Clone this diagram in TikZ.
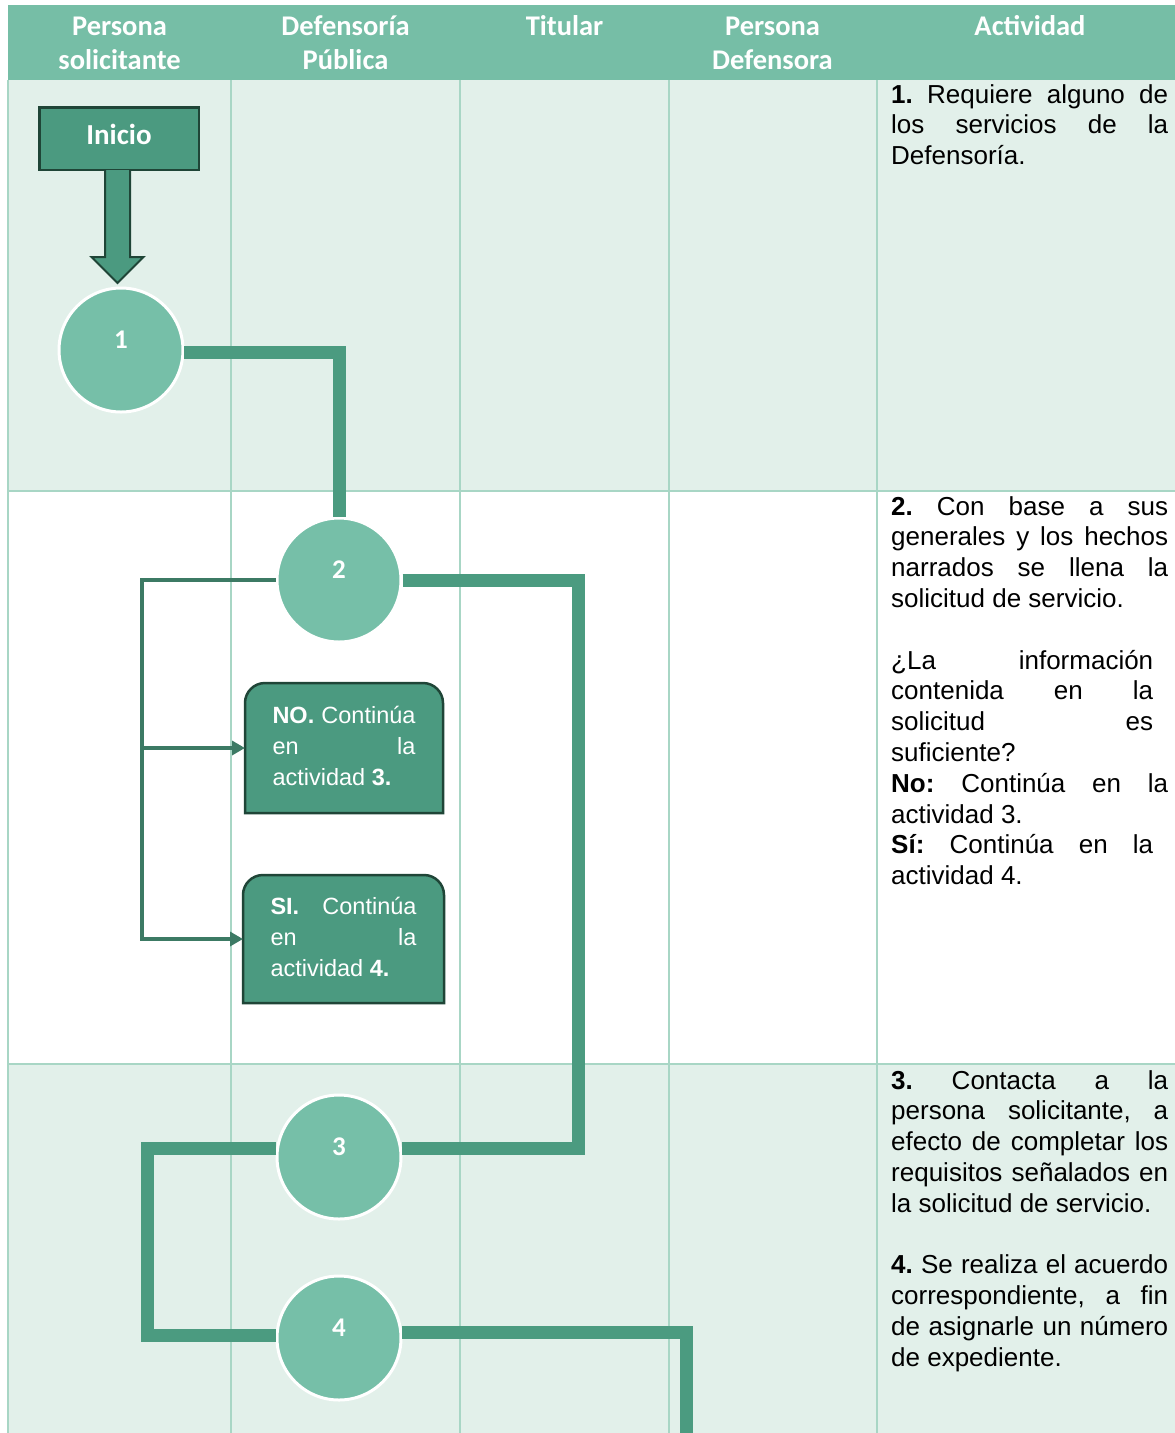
\documentclass[tikz,border=0pt]{standalone}
\usepackage{fontspec}
\setmainfont{Liberation Sans}
\newfontfamily\calfont{Carlito}
\usetikzlibrary{arrows.meta,calc}
\frenchspacing

\definecolor{hdrteal}{HTML}{76BEA6}
\definecolor{rowtint}{HTML}{E2F0EA}
\definecolor{gridline}{HTML}{A8D6C5}
\definecolor{deepteal}{HTML}{4B9A80}
\definecolor{softteal}{HTML}{76BFA8}
\definecolor{flowline}{HTML}{4B9B80}
\definecolor{branchline}{HTML}{3C7A64}
\definecolor{edgedark}{HTML}{1F4537}

% line-by-line text blocks: justified lines, flush-left lines, centred lines
\newdimen\lsk
\newcommand\lstrut{\rule[-0.28\lsk]{0pt}{\lsk}}
\newcommand\jline[2][277pt]{\hbox{\lstrut\makebox[#1][s]{#2}}}
\newcommand\fline[1]{\hbox{\lstrut #1}}
\newcommand\ctrline[1]{\hbox to 0pt{\hss #1\hss}}
\newcommand\textblock[2]{\vtop{\lsk=#1\relax\baselineskip=\lsk\lineskiplimit=-100pt\lineskip=0pt #2}}

\pgfdeclarelayer{bg}
\pgfdeclarelayer{boxes}
\pgfsetlayers{bg,boxes,main}

\tikzset{
  hdr/.style={inner sep=0pt, anchor=base, text=white,
    font=\calfont\bfseries\fontsize{28.5pt}{34pt}\selectfont},
  startbox/.style={rectangle, draw=edgedark, line width=2.5pt, fill=deepteal,
    text=white, font=\calfont\bfseries\fontsize{29pt}{34pt}\selectfont,
    minimum width=159.5pt, minimum height=62.5pt, inner sep=0pt,
    text height=19pt, text depth=7pt},
  stepcircle/.style={circle, fill=softteal, draw=white, line width=3pt,
    minimum size=124pt, inner sep=0pt, text=white,
    font=\calfont\bfseries\fontsize{27pt}{30pt}\selectfont,
    text height=17pt, text depth=21pt},
  decision/.style={rectangle, draw=none, inner sep=0pt, outer sep=0pt,
    text=white, font=\fontsize{23.5pt}{31pt}\selectfont},
  decisionshape/.style={fill=deepteal, draw=edgedark, line width=2.5pt},
  flow/.style={draw=flowline, line width=13pt, line join=miter},
  branch/.style={draw=branchline, line width=3.5pt, line join=miter,
    -{Triangle[length=13pt,width=14pt]}},
  actext/.style={inner sep=0pt, anchor=base west, text=black,
    font=\fontsize{26pt}{30.8pt}\selectfont},
}

\begin{document}
\begin{tikzpicture}[x=1pt,y=-1pt]
\useasboundingbox (0,0) rectangle (1175,1433);

% table: header band, tinted rows and cell rules
\begin{pgfonlayer}{bg}
  \fill[white] (0,0) rectangle (1175,1433);
  \fill[hdrteal] (8,5) rectangle (1175,80);
  \fill[rowtint] (8,80) rectangle (1175,491);
  \fill[rowtint] (8,1064) rectangle (1175,1433);
  \draw[gridline, line width=2pt]
    (8,80) -- (8,1433)
    (231,80) -- (231,1433)
    (460,80) -- (460,1433)
    (669,80) -- (669,1433)
    (877,80) -- (877,1433)
    (8,491) -- (1175,491)
    (8,1064) -- (1175,1064);
\end{pgfonlayer}

% column headings
\node[hdr] (h1) at (119.5,35) {\textblock{34pt}{\ctrline{Persona}\ctrline{solicitante}}};
\node[hdr] (h2) at (345.5,35) {\textblock{34pt}{\ctrline{Defensoría}\ctrline{Pública}}};
\node[hdr] (h3) at (564.5,35) {\textblock{34pt}{\ctrline{Titular}}};
\node[hdr] (h4) at (772.5,35) {\textblock{34pt}{\ctrline{Persona}\ctrline{Defensora}}};
\node[hdr] (h5) at (1030,35) {\textblock{34pt}{\ctrline{Actividad}}};

% flow nodes
\node[startbox] (inicio) at (119,138.5) {Inicio};
\node[stepcircle] (c1) at (121,350) {1};
\node[stepcircle] (c2) at (339,580) {2};
\node[stepcircle] (c3) at (339,1157) {3};
\node[stepcircle] (c4) at (339,1338) {4};

\node[decision, minimum width=198pt, minimum height=130pt] (no) at (344,748)
  {\textblock{31pt}{\jline[143pt]{\textbf{NO.} Continúa}\jline[143pt]{en la}\fline{actividad \textbf{3.}}}};
\node[decision, minimum width=201pt, minimum height=128pt] (si) at (343.5,939)
  {\textblock{31pt}{\jline[146pt]{\textbf{SI.} Continúa}\jline[146pt]{en la}\fline{actividad \textbf{4.}}}};

% decision boxes: rounded top corners, square bottom
\begin{pgfonlayer}{boxes}
  \foreach \b in {no,si}{
    \path[decisionshape] (\b.south west) [rounded corners=20pt] -- (\b.north west)
      -- (\b.north east) [sharp corners] -- (\b.south east) -- cycle;
  }
\end{pgfonlayer}

% block arrow from the start box to step 1
\coordinate (ab) at ($(inicio.south)+(-1.5,0)$);
\filldraw[fill=deepteal, draw=edgedark, line width=2pt, line join=miter]
  ($(ab)+(-12.5,-1)$) -- ($(ab)+(-12.5,86)$) -- ($(ab)+(-26,86)$)
  -- ($(ab)+(0,112)$) -- ($(ab)+(26,86)$) -- ($(ab)+(12.5,86)$)
  -- ($(ab)+(12.5,-1)$);

% corner columns of the connectors
\coordinate (k23) at (578,0);
\coordinate (k34) at (147,0);
\coordinate (kb) at (142,0);
\coordinate (kout) at (686,1440);

% main flow
\draw[flow] (c1.-2) -- (c1.-2 -| c2.north) -- (c2.north);
\draw[flow] (c2.east) -- (c2.east -| k23) -- (k23 |- c3.8) -- (c3.8);
\draw[flow] (c3.172) -- (c3.172 -| k34) -- (k34 |- c4.178) -- (c4.178);
\draw[flow] (c4.5) -- (c4.5 -| kout) -- (kout);

% decision branches
\draw[branch] (c2.west) -- (c2.west -| kb) -- (kb |- si.west) -- (si.west);
\draw[branch] (kb |- no.west) -- (no.west);

% activity descriptions
\node[actext] (a1) at (891,103) {\textblock{30.8pt}{%
  \jline{\textbf{1.} Requiere alguno de}
  \jline{los servicios de la}
  \fline{Defensoría.}}};

\node[actext] (a2) at (891,515) {\textblock{30.8pt}{%
  \jline{\textbf{2.} Con base a sus}
  \jline{generales y los hechos}
  \jline{narrados se llena la}
  \fline{solicitud de servicio.}
  \fline{}
  \jline[262pt]{¿La información}
  \jline[262pt]{contenida en la}
  \jline[262pt]{solicitud es}
  \fline{suficiente?}
  \jline{\textbf{No:} Continúa en la}
  \fline{actividad 3.}
  \jline[262pt]{\textbf{Sí:} Continúa en la}
  \fline{actividad 4.}}};

\node[actext] (a3) at (891,1089) {\textblock{30.8pt}{%
  \jline{\textbf{3.} Contacta a la}
  \jline{persona solicitante, a}
  \jline{efecto de completar los}
  \jline{requisitos señalados en}
  \fline{la solicitud de servicio.}
  \fline{}
  \jline{\textbf{4.} Se realiza el acuerdo}
  \jline{correspondiente, a fin}
  \jline{de asignarle un número}
  \fline{de expediente.}}};

\end{tikzpicture}
\end{document}
